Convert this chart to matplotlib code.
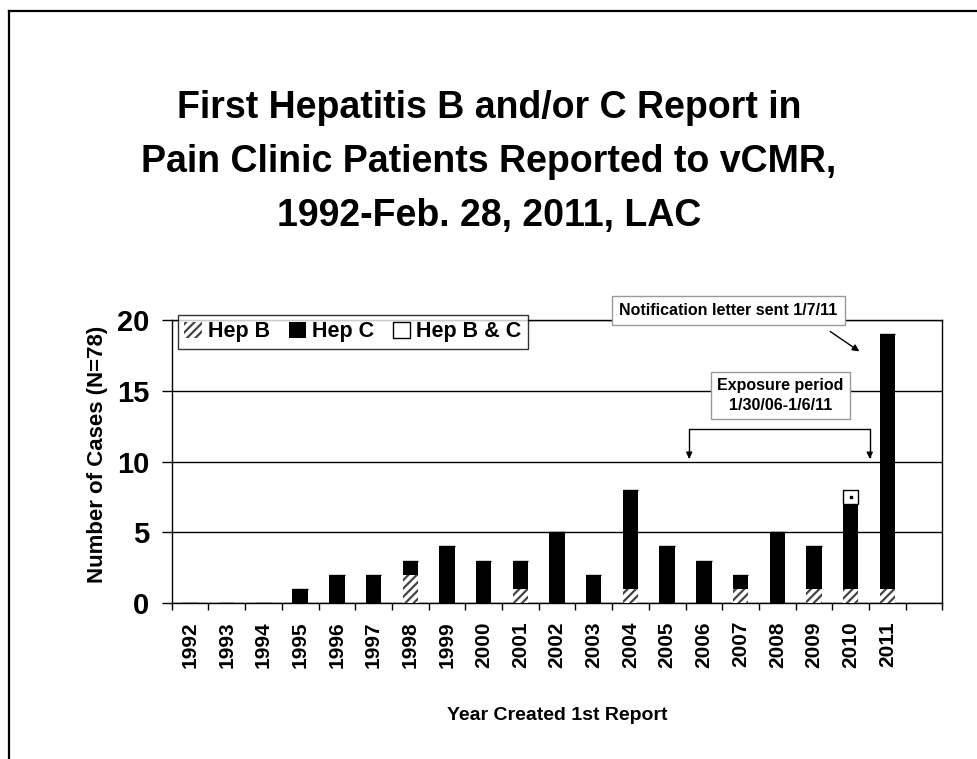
import matplotlib
matplotlib.use("Agg")
import matplotlib.pyplot as plt
from matplotlib.lines import Line2D
import numpy as np

plt.rcParams['font.family'] = ['Liberation Sans', 'DejaVu Sans']
plt.rcParams['hatch.linewidth'] = 1.6

years = ['1992', '1993', '1994', '1995', '1996', '1997', '1998', '1999', '2000', '2001',
         '2002', '2003', '2004', '2005', '2006', '2007', '2008', '2009', '2010', '2011']
hep_b = [0, 0, 0, 0, 0, 0, 2, 0, 0, 1, 0, 0, 1, 0, 0, 1, 0, 1, 1, 1]
hep_c = [0, 0, 0, 1, 2, 2, 1, 4, 3, 2, 5, 2, 7, 4, 3, 1, 5, 3, 6, 18]
hep_bc = [0, 0, 0, 0, 0, 0, 0, 0, 0, 0, 0, 0, 0, 0, 0, 0, 0, 0, 1, 0]

fig = plt.figure(figsize=(9.78, 7.59), dpi=100)
ax = fig.add_axes([0.1756, 0.2055, 0.788, 0.3729])

x = np.arange(len(years))
w = 0.42
b = np.array(hep_b)
c = np.array(hep_c)
bc = np.array(hep_bc)

ax.bar(x, b, w, color='white', edgecolor='#444444', hatch='////', linewidth=0, zorder=3,
       label='Hep B')
ax.bar(x, c, w, bottom=b, color='black', edgecolor='black', linewidth=0, zorder=3,
       label='Hep C')
ax.bar(x, bc, w, bottom=b + c, color='white', edgecolor='black', linewidth=1, zorder=3,
       label='Hep B & C')
# dot in the middle of the B&C box
for i in range(len(years)):
    if bc[i] > 0:
        ax.plot(x[i], b[i] + c[i] + bc[i] / 2, marker='s', ms=2, color='black', zorder=4)

ax.set_xlim(-0.5, len(years) + 0.5)
ax.set_ylim(0, 20)
ax.set_yticks([0, 5, 10, 15, 20])
ax.set_yticklabels(['0', '5', '10', '15', '20'], fontsize=21, fontweight='bold')
ax.tick_params(axis='y', direction='out', length=7, width=1, pad=9)
ax.yaxis.grid(True, color='black', linewidth=1)
ax.set_axisbelow(True)

ax.set_xticks(np.arange(len(years) + 2) - 0.5)
ax.set_xticklabels([])
ax.tick_params(axis='x', which='major', direction='out', length=5, width=1)
ax.set_xticks(x, minor=True)
ax.set_xticklabels(years, minor=True, rotation=90, fontsize=15, fontweight='bold')
ax.tick_params(axis='x', which='minor', length=0, pad=13)

for s in ax.spines.values():
    s.set_linewidth(1)
    s.set_color('black')

ax.set_ylabel('Number of Cases (N=78)', fontsize=16, fontweight='bold')
ax.yaxis.set_label_coords(-0.0826, 0.526)
fig.text(557 / 978, 1 - 716 / 759, 'Year Created 1st Report', ha='center', va='center',
         fontsize=14, fontweight='bold')

fig.text(0.5, 1 - 162 / 759,
         'First Hepatitis B and/or C Report in\nPain Clinic Patients Reported to vCMR,\n1992-Feb. 28, 2011, LAC',
         ha='center', va='center', fontsize=27, fontweight='bold', linespacing=1.66)

leg = ax.legend(loc='upper left', bbox_to_anchor=(178 / 978, 1 - 315 / 759),
                bbox_transform=fig.transFigure, ncol=3,
                prop={'weight': 'bold', 'size': 15.5}, frameon=True, fancybox=False,
                handlelength=0.8, handleheight=0.8, handletextpad=0.3, columnspacing=0.85,
                borderpad=0.3, borderaxespad=0)
leg.get_frame().set_edgecolor('black')
leg.get_frame().set_linewidth(1)
leg.set_zorder(10)

# annotations
ax.text(14.67, 20.67, 'Notification letter sent 1/7/11', ha='center', va='center',
        fontsize=11.5, fontweight='bold', clip_on=False, zorder=6,
        bbox=dict(boxstyle='square,pad=0.45', facecolor='white', edgecolor='#999999'))
ax.annotate('', xy=(18.3, 17.67), xytext=(17.38, 19.3),
            arrowprops=dict(arrowstyle='-|>', color='black', lw=1, mutation_scale=10),
            zorder=6)

ax.text(16.08, 14.66, 'Exposure period\n1/30/06-1/6/11', ha='center', va='center',
        fontsize=11.5, fontweight='bold', zorder=6, linespacing=1.35,
        bbox=dict(boxstyle='square,pad=0.4', facecolor='white', edgecolor='#999999'))
ax.plot([13.6, 13.6, 18.52, 18.52], [10.3, 12.3, 12.3, 10.3], color='black', lw=1, zorder=6)
for xx in [13.6, 18.52]:
    ax.annotate('', xy=(xx, 10.0), xytext=(xx, 10.6),
                arrowprops=dict(arrowstyle='-|>', color='black', lw=1, mutation_scale=9),
                zorder=6)

# outer frame
fig.add_artist(Line2D([9 / 978, 9 / 978], [0, 1 - 11 / 759], color='black', lw=1.6,
                      transform=fig.transFigure))
fig.add_artist(Line2D([9 / 978, 1], [1 - 11 / 759, 1 - 11 / 759], color='black', lw=1.6,
                      transform=fig.transFigure))

fig.savefig('out.png', dpi=100)
